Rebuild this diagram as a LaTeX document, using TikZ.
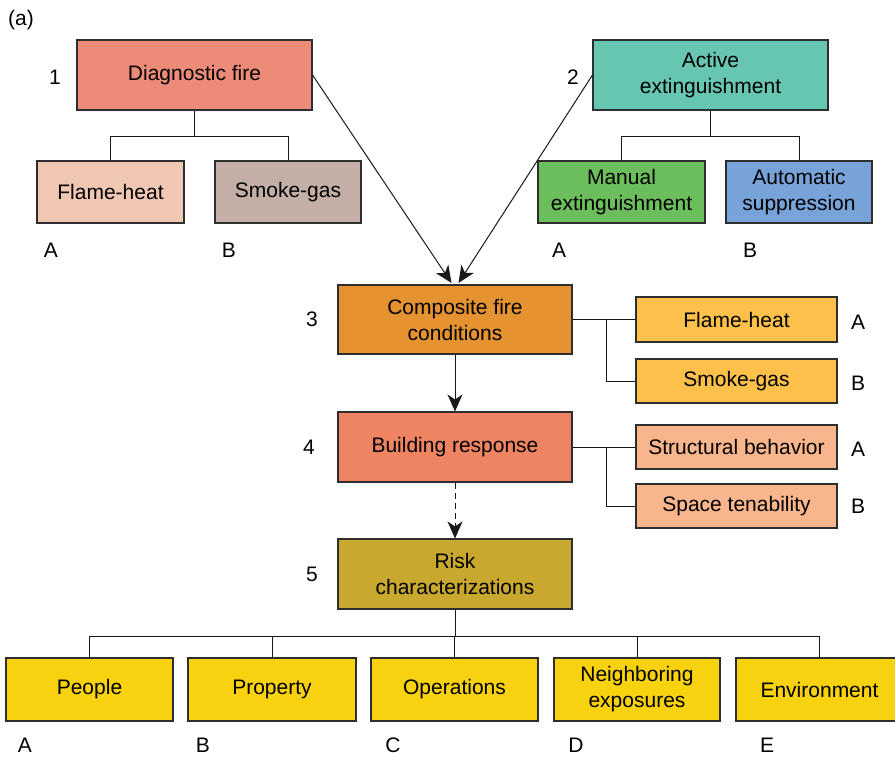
\documentclass[tikz,border=0pt]{standalone}
\usepackage{fontspec}
\setmainfont{Liberation Sans}
\usetikzlibrary{arrows.meta}

\definecolor{cDiag}{HTML}{EC8B77}
\definecolor{cFlameA}{HTML}{F0C7B3}
\definecolor{cSmokeA}{HTML}{C4AFA7}
\definecolor{cActive}{HTML}{66C6B2}
\definecolor{cManual}{HTML}{6CBD5B}
\definecolor{cAuto}{HTML}{78A3D8}
\definecolor{cComp}{HTML}{E59230}
\definecolor{cFlameB}{HTML}{FDC14B}
\definecolor{cBuild}{HTML}{EE8462}
\definecolor{cResp}{HTML}{F9B58B}
\definecolor{cRisk}{HTML}{C9A82F}
\definecolor{cOut}{HTML}{F8D20F}
\definecolor{cEdge}{HTML}{2E2E2E}

\begin{document}
\begin{tikzpicture}[x=1pt,y=-1pt,
  box/.style={draw=cEdge, line width=1.1pt, align=center, inner sep=0pt,
    font=\fontsize{21}{26}\selectfont},
  lbl/.style={inner sep=0pt, font=\fontsize{21}{24}\selectfont},
  link/.style={line width=1pt, draw=black!90},
  arr/.style={link, -{Stealth[length=17pt,width=15pt,inset=5pt]}}
]
\useasboundingbox (0,0) rectangle (895,756);
\fill[white] (0,0) rectangle (895,756);
\clip (0,0) rectangle (895,756);

% panel tag
\node[lbl] (tag) at (21,20) {(a)};

% level 1: diagnostic fire and its components
\node[box, fill=cDiag, minimum width=235pt, minimum height=70pt] (diag) at (194.5,75) {Diagnostic fire};
\node[box, fill=cFlameA, minimum width=147pt, minimum height=62pt] (fhA) at (110.5,192) {Flame-heat};
\node[box, fill=cSmokeA, minimum width=146pt, minimum height=62pt] (sgA) at (288,192) {Smoke-gas};

% level 2: active extinguishment and its components
\node[box, fill=cActive, minimum width=235pt, minimum height=70pt] (act) at (710.5,75) {Active\\extinguishment};
\node[box, fill=cManual, minimum width=167pt, minimum height=62pt] (man) at (621.5,192) {Manual\\extinguishment};
\node[box, fill=cAuto, minimum width=146pt, minimum height=62pt] (aut) at (799,192) {Automatic\\suppression};

% level 3: composite fire conditions
\node[box, fill=cComp, minimum width=234pt, minimum height=69pt] (comp) at (455,319.5) {Composite fire\\conditions};
\node[box, fill=cFlameB, minimum width=201pt, minimum height=45pt] (fhB) at (736.5,319.5) {Flame-heat};
\node[box, fill=cFlameB, minimum width=201pt, minimum height=44pt] (sgB) at (736.5,381) {Smoke-gas};

% level 4: building response
\node[box, fill=cBuild, minimum width=234pt, minimum height=70pt] (bld) at (455,447) {Building response};
\node[box, fill=cResp, minimum width=201pt, minimum height=44pt] (stb) at (736.5,447) {Structural behavior};
\node[box, fill=cResp, minimum width=201pt, minimum height=44pt] (spt) at (736.5,506) {Space tenability};

% level 5: risk characterizations and outcomes
\node[box, fill=cRisk, minimum width=234pt, minimum height=70pt] (risk) at (455,574) {Risk\\characterizations};
\node[box, fill=cOut, minimum width=167pt, minimum height=63pt] (peo) at (89.5,689.5) {People};
\node[box, fill=cOut, minimum width=168pt, minimum height=63pt] (pro) at (272,689.5) {Property};
\node[box, fill=cOut, minimum width=167pt, minimum height=63pt] (ope) at (454.5,689.5) {Operations};
\node[box, fill=cOut, minimum width=166pt, minimum height=63pt] (nei) at (637,689.5) {Neighboring\\exposures};
\node[box, fill=cOut, minimum width=167pt, minimum height=63pt] (env) at (819.5,689.5) {Environment};

% level numbers
\node[lbl] (n1) at (55,77) {1};
\node[lbl] (n2) at (573,77) {2};
\node[lbl] (n3) at (312,319.5) {3};
\node[lbl] (n4) at (309,447) {4};
\node[lbl] (n5) at (312,574) {5};

% component letters
\node[lbl] (l1a) at (51,250) {A};
\node[lbl] (l1b) at (229,250) {B};
\node[lbl] (l2a) at (559,250) {A};
\node[lbl] (l2b) at (750,250) {B};
\node[lbl] (l3a) at (858,322) {A};
\node[lbl] (l3b) at (858,383) {B};
\node[lbl] (l4a) at (858,449) {A};
\node[lbl] (l4b) at (858,506) {B};
\node[lbl] (l5a) at (25,745) {A};
\node[lbl] (l5b) at (203,745) {B};
\node[lbl] (l5c) at (393,745) {C};
\node[lbl] (l5d) at (576,745) {D};
\node[lbl] (l5e) at (767,745) {E};

% tree connectors
\draw[link] (diag.south) -- ++(0,26) coordinate (j1);
\draw[link] (fhA.north) |- (j1) -| (sgA.north);
\draw[link] (act.south) -- ++(0,26) coordinate (j2);
\draw[link] (man.north) |- (j2) -| (aut.north);

\coordinate (k3) at (606,319.5);
\draw[link] (comp.east) -- (fhB.west);
\draw[link] (k3) |- (sgB.west);
\coordinate (k4) at (606,447);
\draw[link] (bld.east) -- (stb.west);
\draw[link] (k4) |- (spt.west);

\draw[link] (risk.south) -- ++(0,27) coordinate (j5);
\draw[link] (peo.north) |- (j5) -| (env.north);
\draw[link] (pro.north) -- (pro.north |- j5);
\draw[link] (ope.north) -- (ope.north |- j5);
\draw[link] (nei.north) -- (nei.north |- j5);

% flow arrows
\coordinate (t1) at (451.5,283);
\coordinate (t2) at (458.5,283);
\draw[arr] (diag.east) -- (t1);
\draw[arr] (act.west) -- (t2);
\draw[arr] (comp.south) -- (bld.north);
\draw[arr, dash pattern=on 6pt off 4pt] (bld.south) -- (risk.north);
\end{tikzpicture}
\end{document}
